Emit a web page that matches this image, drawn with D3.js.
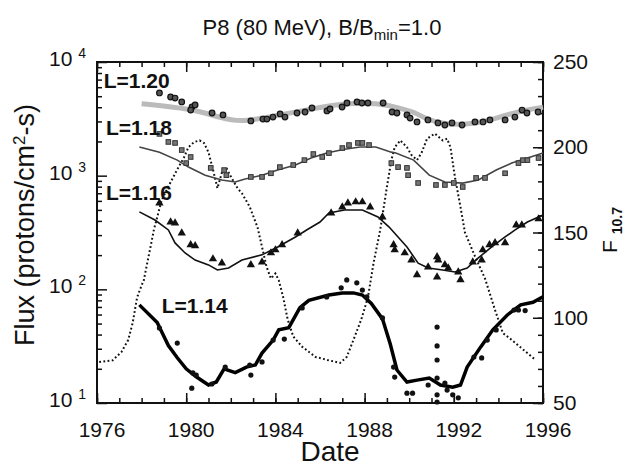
<!DOCTYPE html>
<html>
<head>
<meta charset="utf-8">
<script src="https://cdn.jsdelivr.net/npm/d3@7"></script>
<style>
body{margin:0;background:#fff;}
text{font-family:Arial,"Liberation Sans",Helvetica,sans-serif;fill:#111;}
</style>
</head>
<body>
<svg id="chart" width="627" height="467"></svg>
<script>
// values: [year, flux] and [year, F10.7]
var yearTicks = [1976, 1980, 1984, 1988, 1992, 1996]
var fluxTicks = [10, 100, 1000, 10000]
var fluxExp = ['1', '2', '3', '4']
var f107Ticks = [50, 100, 150, 200, 250]

var l120_line = [[1978.0,4300],[1980.2,3900],[1981.6,3200],[1982.5,2950],[1984.1,3400],[1985.6,3850],[1987.1,4350],[1988.6,4350],[1989.4,4000],[1990.3,3600],[1990.8,3100],[1991.6,2850],[1992.4,2800],[1993.3,2950],[1994.3,3400],[1995.3,3800],[1996.0,4000]]
var l120_pts = [[1978.8,5340],[1979.3,4920],[1979.5,4820],[1979.8,4450],[1980.26,4020],[1980.4,4190],[1980.2,3780],[1981.16,3560],[1981.65,3420],[1982.9,3030],[1983.44,3150],[1983.62,3150],[1983.89,3280],[1984.21,3490],[1984.43,3280],[1984.97,3560],[1985.33,3630],[1985.64,3940],[1986.31,3710],[1986.45,3860],[1986.99,4020],[1987.21,4360],[1987.66,4450],[1987.88,4360],[1988.15,4360],[1988.83,4360],[1989.23,3630],[1989.45,3560],[1989.9,3420],[1990.04,3210],[1990.35,2970],[1990.84,3090],[1991.29,2910],[1991.6,2790],[1991.92,2910],[1992.37,2790],[1992.95,2970],[1993.31,2970],[1993.62,3090],[1994.3,3090],[1994.74,3280],[1995.06,3780],[1995.28,3560],[1995.78,3630]]

var l118_line = [[1977.9,1790],[1978.8,1610],[1979.6,1370],[1980.1,1190],[1980.85,1010],[1981.6,916],[1982.2,880],[1982.6,930],[1983.4,1010],[1984.1,1120],[1984.9,1240],[1985.6,1430],[1986.3,1580],[1987.1,1710],[1987.8,1790],[1988.5,1790],[1989.2,1610],[1989.4,1580],[1990.2,1370],[1990.9,1010],[1991.6,880],[1992.4,860],[1993.1,916],[1993.9,1120],[1994.6,1290],[1995.3,1430],[1996.0,1580]]
var l118_pts = [[1978.8,2330],[1979.2,1980],[1979.5,1940],[1979.8,1680],[1980.2,1460],[1980.0,1290],[1981.1,1170],[1981.7,1120],[1981.8,1010],[1982.9,974],[1983.4,974],[1983.8,1050],[1984.2,1190],[1984.8,1240],[1985.3,1370],[1985.7,1550],[1986.1,1460],[1986.4,1580],[1987.0,1750],[1987.3,1860],[1987.7,1940],[1987.9,1940],[1988.2,1860],[1989.2,1290],[1989.5,1190],[1989.9,1170],[1989.95,1010],[1990.4,862],[1991.2,828],[1991.6,828],[1992.0,862],[1992.4,795],[1993.0,955],[1993.4,955],[1994.3,1050],[1994.9,1290],[1995.1,1370],[1995.3,1370],[1995.8,1430]]

var l116_line = [[1977.9,480],[1978.6,407],[1979.2,333],[1979.5,256],[1979.95,209],[1980.4,181],[1981.0,164],[1981.4,148],[1981.9,154],[1982.5,181],[1983.4,201],[1984.1,236],[1984.9,289],[1985.4,333],[1986.0,391],[1986.4,469],[1987.1,499],[1987.9,499],[1988.6,433],[1989.1,353],[1989.9,236],[1990.4,170],[1990.85,154],[1991.5,148],[1992.05,142],[1992.6,154],[1993.1,189],[1993.7,236],[1994.3,289],[1994.75,333],[1995.3,391],[1996.0,451]]
var l116_pts = [[1978.8,575],[1979.3,391],[1979.5,383],[1979.8,313],[1980.2,246],[1980.4,241],[1981.2,185],[1981.6,170],[1982.9,164],[1983.4,174],[1983.8,209],[1984.0,222],[1984.3,246],[1985.0,313],[1986.5,469],[1987.0,530],[1987.25,575],[1987.6,587],[1987.9,587],[1988.25,530],[1988.8,433],[1989.3,246],[1989.35,222],[1989.8,209],[1990.1,181],[1990.35,134],[1990.85,157],[1991.25,193],[1991.3,181],[1991.25,128],[1991.6,164],[1991.75,154],[1992.2,142],[1992.3,121],[1992.85,174],[1993.25,181],[1993.3,222],[1993.6,246],[1993.85,256],[1994.3,256],[1994.8,368],[1995.05,368],[1995.8,416]]

var l114_line = [[1977.9,73],[1978.7,51],[1979.2,32],[1979.6,25],[1980.0,20],[1980.45,17],[1981.0,14.4],[1981.35,15.3],[1981.7,20],[1982.2,18.5],[1982.7,20.7],[1983.1,21.6],[1983.4,27.5],[1983.9,35.8],[1984.15,44],[1984.6,46],[1985.1,69],[1985.5,80],[1986.4,89],[1987.0,93],[1987.5,93],[1987.9,89],[1988.3,75],[1988.8,55],[1989.15,33],[1989.45,19.5],[1989.9,15.3],[1990.35,15.9],[1990.9,16.6],[1991.4,14.4],[1991.95,13.8],[1992.3,14.4],[1992.6,20.7],[1993.2,31],[1993.75,44],[1994.4,59.5],[1995.0,73],[1995.55,77],[1996.0,86]]
var l114_pts = [[1978.8,45.7],[1979.6,33.7],[1980.3,18.4],[1980.45,17.6],[1980.25,13.5],[1981.15,14.7],[1981.75,20.7],[1982.85,21.6],[1982.9,17.6],[1983.4,23.0],[1983.9,35.8],[1984.4,36.5],[1985.2,68.6],[1986.3,85.7],[1986.95,103],[1987.2,121],[1987.65,114],[1987.9,98.6],[1988.1,85.7],[1988.8,56],[1989.3,20.7],[1989.35,16.9],[1989.9,12.2],[1990.15,12.2],[1990.85,14.4],[1991.25,46.6],[1991.25,31.8],[1991.25,23.9],[1991.25,16.6],[1991.25,11.8],[1991.25,10.2],[1991.6,15.0],[1991.7,13.0],[1991.95,11.8],[1992.2,11.1],[1992.9,25.4],[1993.25,24.9],[1993.5,35.8],[1993.9,43.9],[1994.7,65.8],[1994.9,65.8],[1995.2,65.0]]

var f107 = [[1976.1,74],[1976.7,75],[1977.1,80],[1977.4,87],[1977.6,97],[1977.8,112],[1978.0,119],[1978.1,122],[1978.25,132],[1978.4,141.5],[1978.55,151.5],[1978.7,159],[1978.9,169],[1979.2,177],[1979.6,187],[1979.9,194],[1980.1,200],[1980.35,203],[1980.6,204],[1980.8,202.5],[1981.0,197],[1981.2,187],[1981.4,176],[1981.6,185],[1981.8,188],[1981.95,184],[1982.3,176],[1982.5,173],[1982.85,165],[1983.2,153],[1983.4,141.5],[1983.6,130],[1983.8,123],[1984.0,126],[1984.15,122],[1984.35,112],[1984.55,99],[1984.8,89],[1985.2,83],[1985.8,77],[1986.4,75],[1986.9,73.5],[1987.2,77],[1987.5,87],[1987.85,99],[1988.15,112],[1988.4,132],[1988.7,151.5],[1989.0,176.7],[1989.2,192.5],[1989.35,200],[1989.6,204],[1989.9,200],[1990.1,195.5],[1990.35,192.5],[1990.55,196.6],[1990.8,205],[1991.15,208],[1991.5,204],[1991.7,205],[1991.85,200],[1992.05,182.5],[1992.3,165],[1992.5,150],[1992.95,136],[1993.4,123],[1993.85,104.5],[1994.2,91],[1994.6,87],[1995.05,82],[1995.6,76]]

var curveLabels = [['L=1.20', 1976.3, 5900], ['L=1.18', 1976.4, 2300], ['L=1.16', 1976.4, 610], ['L=1.14', 1978.9, 62]]

function draw(){
	var svg = d3.select('svg#chart')
	var L = 97, R = 543, T = 62, B = 403
	var x = d3.scaleLinear().domain([1976, 1996]).range([L, R])
	var yFlux = d3.scaleLog().domain([10, 10000]).range([B, T])
	var yF = d3.scaleLinear().domain([50, 250]).range([B, T])

	// ticks, all pointing inward
	function ticks(axis, tr){
		var g = svg.append('g').attr('transform', tr).call(axis)
		g.select('.domain').remove()
		g.selectAll('line').style('stroke', '#111').style('stroke-width', 1.5)
		return g
	}
	var minorYears = d3.range(1976, 1997)
	ticks(d3.axisBottom(x).tickValues(minorYears).tickSize(-5).tickFormat(''), 'translate(0,' + B + ')')
	ticks(d3.axisBottom(x).tickValues(yearTicks).tickSize(-10).tickFormat(''), 'translate(0,' + B + ')')
	ticks(d3.axisTop(x).tickValues(minorYears).tickSize(-5).tickFormat(''), 'translate(0,' + T + ')')
	ticks(d3.axisTop(x).tickValues(yearTicks).tickSize(-10).tickFormat(''), 'translate(0,' + T + ')')

	var minorFlux = []
	fluxTicks.slice(0, 3).forEach(function(d){
		for(var k = 2; k < 10; k++) minorFlux.push(d * k)
	})
	ticks(d3.axisLeft(yFlux).tickValues(minorFlux).tickSize(-5).tickFormat(''), 'translate(' + L + ',0)')
	ticks(d3.axisLeft(yFlux).tickValues(fluxTicks).tickSize(-10).tickFormat(''), 'translate(' + L + ',0)')
	ticks(d3.axisRight(yF).tickValues(d3.range(50, 251, 10)).tickSize(-5).tickFormat(''), 'translate(' + R + ',0)')
	ticks(d3.axisRight(yF).tickValues(f107Ticks).tickSize(-10).tickFormat(''), 'translate(' + R + ',0)')

	svg.append('rect')
		.attr('x', L).attr('y', T).attr('width', R - L).attr('height', B - T)
		.style('fill', 'none').style('stroke', '#111').style('stroke-width', 2)

	// tick labels
	svg.selectAll('.xl').data(yearTicks).enter().append('text')
		.attr('x', function(d){return x(d) + 5})
		.attr('y', 437)
		.attr('text-anchor', 'middle')
		.style('font-size', '21px')
		.text(function(d){return d})

	var yl = svg.selectAll('.yl').data(fluxTicks).enter().append('text')
		.attr('x', 86)
		.attr('y', function(d){return yFlux(d) + 4})
		.attr('text-anchor', 'end')
		.style('font-size', '21px')
	yl.append('tspan').text('10 ')
	yl.append('tspan').attr('dy', -8).style('font-size', '14px').text(function(d, i){return fluxExp[i]})

	svg.selectAll('.rl').data(f107Ticks).enter().append('text')
		.attr('x', 553)
		.attr('y', function(d){return yF(d) + 7})
		.style('font-size', '21px')
		.text(function(d){return d})

	// titles
	var title = svg.append('text').attr('x', 322).attr('y', 35).attr('text-anchor', 'middle').style('font-size', '22px')
	title.append('tspan').text('P8 (80 MeV), B/B')
	title.append('tspan').attr('dy', 5).style('font-size', '15px').text('min')
	title.append('tspan').attr('dy', -5).text('=1.0')

	svg.append('text').attr('x', 330).attr('y', 461).attr('text-anchor', 'middle')
		.style('font-size', '28px').text('Date')

	var yt = svg.append('text').attr('transform', 'translate(34,225) rotate(-90)')
		.attr('text-anchor', 'middle').style('font-size', '27px')
	yt.append('tspan').text('Flux (protons/cm')
	yt.append('tspan').attr('dy', -9).style('font-size', '17px').text('2')
	yt.append('tspan').attr('dy', 9).text('-s)')

	var rt = svg.append('text').attr('transform', 'translate(617,230) rotate(-90)')
		.attr('text-anchor', 'middle').style('font-size', '21px')
	rt.append('tspan').text('F ')
	rt.append('tspan').attr('dy', 5).style('font-size', '14px').style('font-weight', 'bold').text('10.7')

	// curves
	var lineFlux = d3.line().x(function(d){return x(d[0])}).y(function(d){return yFlux(d[1])})
	var lineF = d3.line().x(function(d){return x(d[0])}).y(function(d){return yF(d[1])})

	svg.append('path').attr('d', lineF(f107))
		.style('fill', 'none').style('stroke', '#111').style('stroke-width', 2).style('stroke-dasharray', '1.8,2.4')

	svg.append('path').attr('d', lineFlux.curve(d3.curveBasis)(l120_line))
		.style('fill', 'none').style('stroke', '#bbb').style('stroke-width', 5)
	svg.append('path').attr('d', lineFlux.curve(d3.curveLinear)(l118_line))
		.style('fill', 'none').style('stroke', '#444').style('stroke-width', 1.6)
	svg.append('path').attr('d', lineFlux(l116_line))
		.style('fill', 'none').style('stroke', '#111').style('stroke-width', 1.6)
	svg.append('path').attr('d', lineFlux(l114_line))
		.style('fill', 'none').style('stroke', '#000').style('stroke-width', 3.5)

	svg.selectAll('.p120').data(l120_pts).enter().append('circle')
		.attr('cx', function(d){return x(d[0])})
		.attr('cy', function(d){return yFlux(d[1])})
		.attr('r', 2.8)
		.style('fill', '#555').style('stroke', '#111').style('stroke-width', 1.2)

	svg.selectAll('.p118').data(l118_pts).enter().append('rect')
		.attr('x', function(d){return x(d[0]) - 2.3})
		.attr('y', function(d){return yFlux(d[1]) - 2.3})
		.attr('width', 4.6).attr('height', 4.6)
		.style('fill', '#777').style('stroke', '#333').style('stroke-width', 1)

	var tri = d3.symbol().type(d3.symbolTriangle).size(30)
	svg.selectAll('.p116').data(l116_pts).enter().append('path')
		.attr('d', tri)
		.attr('transform', function(d){return 'translate(' + x(d[0]) + ',' + yFlux(d[1]) + ')'})
		.style('fill', '#111')

	svg.selectAll('.p114').data(l114_pts).enter().append('circle')
		.attr('cx', function(d){return x(d[0])})
		.attr('cy', function(d){return yFlux(d[1])})
		.attr('r', 2.6)
		.style('fill', '#111')

	svg.selectAll('.cl').data(curveLabels).enter().append('text')
		.attr('x', function(d){return x(d[1])})
		.attr('y', function(d){return yFlux(d[2])})
		.style('font-size', '21px').style('font-weight', 'bold')
		.text(function(d){return d[0]})
}
draw()
</script>
</body>
</html>
